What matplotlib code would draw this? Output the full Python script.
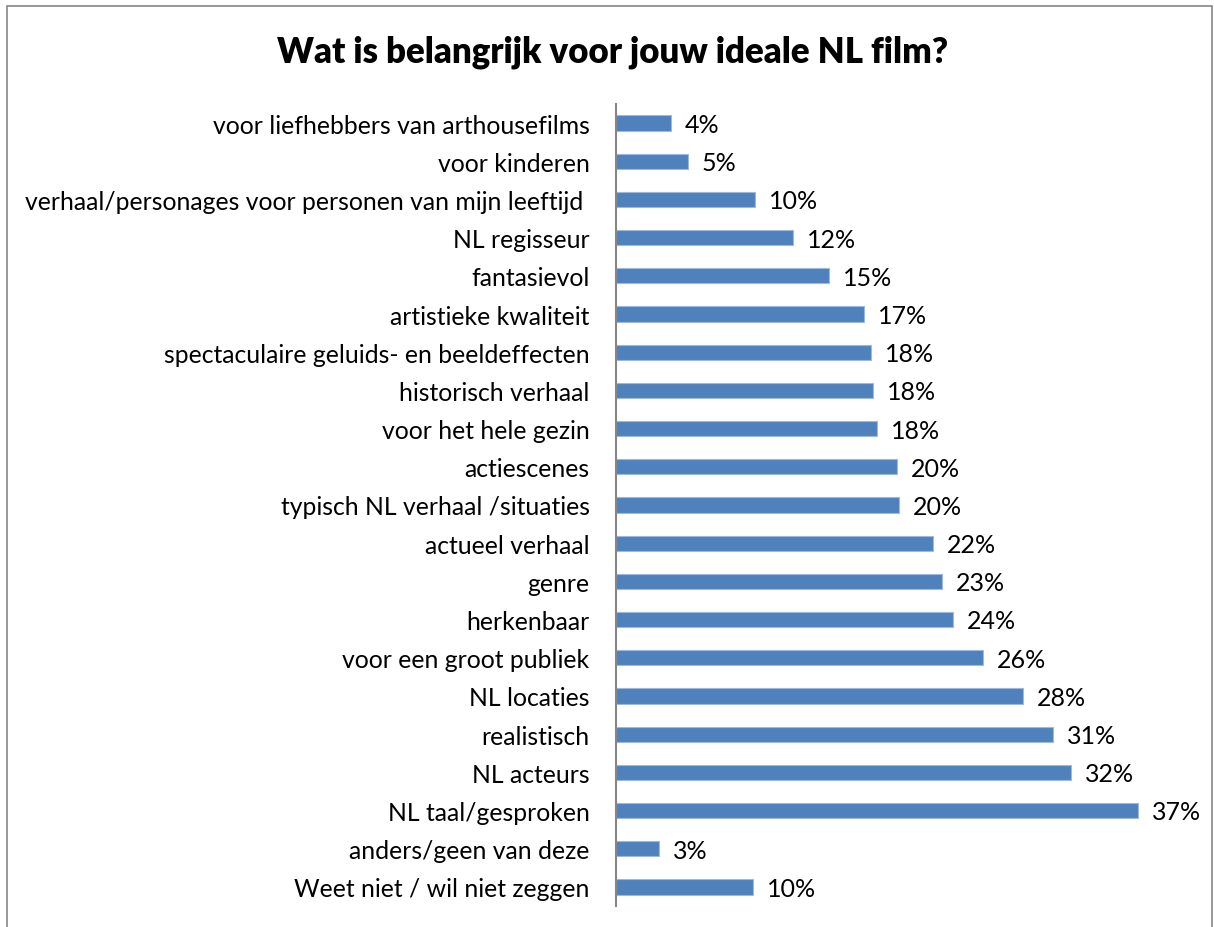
import matplotlib.pyplot as plt
from matplotlib.patches import Rectangle

plt.rcParams['font.family'] = ['Lato', 'DejaVu Sans']

# categories top to bottom (%)
categories = [
    "voor liefhebbers van arthousefilms",
    "voor kinderen",
    "verhaal/personages voor personen van mijn leeftijd ",
    "NL regisseur",
    "fantasievol",
    "artistieke kwaliteit",
    "spectaculaire geluids- en beeldeffecten",
    "historisch verhaal",
    "voor het hele gezin",
    "actiescenes",
    "typisch NL verhaal /situaties",
    "actueel verhaal",
    "genre",
    "herkenbaar",
    "voor een groot publiek",
    "NL locaties",
    "realistisch",
    "NL acteurs",
    "NL taal/gesproken",
    "anders/geen van deze",
    "Weet niet / wil niet zeggen",
]
values = [3.85, 5.04, 9.73, 12.39, 14.9, 17.35, 17.84, 17.98, 18.26, 19.66,
          19.8, 22.18, 22.8, 23.58, 25.7, 28.45, 30.58, 31.84, 36.53, 3.01, 9.59]

W, H = 1214, 928
fig = plt.figure(figsize=(W / 100, H / 100), dpi=100)

# chart area border
fig.patches.append(Rectangle((7 / W, -0.01), (1212 - 7) / W, 1 - 7 / H + 0.01,
                             transform=fig.transFigure, fill=False,
                             edgecolor='#868686', linewidth=1.2))

ax = fig.add_axes([616 / W, 1 - 907 / H, 571.6 / W, 802 / H])
ypos = list(range(len(categories)))
ax.barh(ypos, values, height=0.4, color='#4F81BD', edgecolor='#9DB9DD',
        linewidth=0.8)
ax.set_ylim(len(categories) - 0.5, -0.5)
ax.set_xlim(0, 40)

ax.set_yticks(ypos)
ax.set_yticklabels(categories, fontsize=17.8)
ax.tick_params(axis='y', length=0, pad=19)
ax.set_xticks([])
for side in ['top', 'right', 'bottom']:
    ax.spines[side].set_visible(False)
ax.spines['left'].set_color('#868686')
ax.spines['left'].set_linewidth(1.5)

for y, v in zip(ypos, values):
    ax.annotate(f"{round(v)}%", (v, y), xytext=(10, -1), textcoords='offset points',
                va='center', ha='left', fontsize=18)

fig.text(613 / W, 1 - 52 / H, "Wat is belangrijk voor jouw ideale NL film?",
         ha='center', va='center', fontsize=25, fontweight='heavy')

fig.savefig('out.png', dpi=100)
